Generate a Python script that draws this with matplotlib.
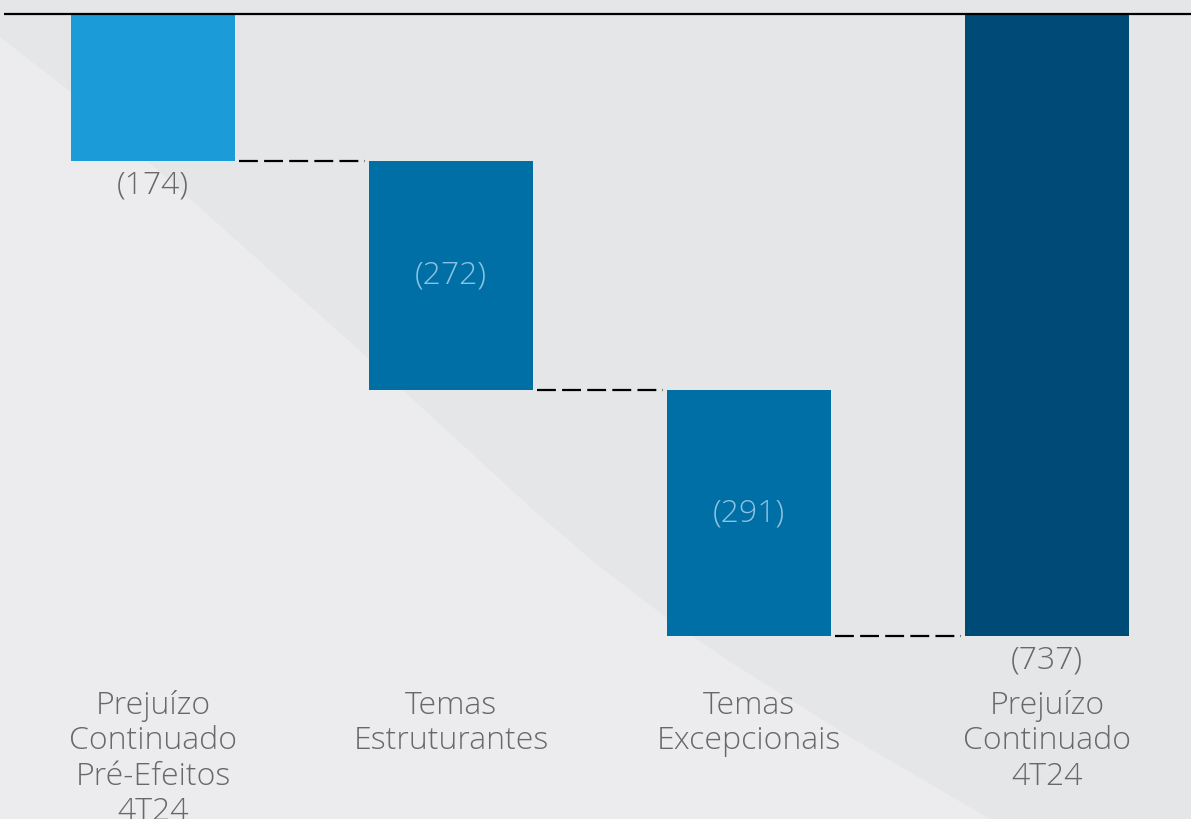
import numpy as np
import matplotlib.pyplot as plt
from matplotlib.patches import Polygon

plt.rcParams['font.family'] = ['Open Sans', 'DejaVu Sans']

# dados do gráfico (milhões)
categorias = ['Prejuízo\nContinuado\nPré-Efeitos\n4T24',
              'Temas\nEstruturantes',
              'Temas\nExcepcionais',
              'Prejuízo\nContinuado\n4T24']
valores = [-174, -272, -291]
total = sum(valores)
cores = ['#1b9cd9', '#006fa6', '#006fa6', '#004a77']

# bases e topos da cascata
fins = np.cumsum(valores)
inicios = np.concatenate([[0], fins[:-1]])
bottoms = list(fins) + [total]
alturas = [i - f for i, f in zip(inicios, fins)] + [-total]

fig = plt.figure(figsize=(11.91, 8.19), dpi=100)
fig.patch.set_facecolor('#e5e6e8')
ax = fig.add_axes([0, 0, 1, 1])
ax.set_facecolor('#e5e6e8')

# faixa clara diagonal no fundo
faixa = [(0, 37), (72, 93), (180, 190), (367, 357), (530, 507), (600, 567),
         (667, 618), (727, 660), (850, 737), (990, 819), (0, 819)]
faixa = [(x / 1191, 1 - y / 819) for x, y in faixa]
ax.add_patch(Polygon(faixa, closed=True, transform=ax.transAxes,
                     facecolor='#ececee', edgecolor='none', zorder=0))

x = np.arange(len(categorias))
larg = 0.55
ax.bar(x, alturas, bottom=bottoms, width=larg, color=cores, zorder=2)

# linha do zero
ax.plot([-0.5, 3.6], [0, 0], color='black', lw=1.6, zorder=3, solid_capstyle='butt')

# conectores tracejados
for i in range(len(valores)):
    y = fins[i]
    ax.plot([x[i] + larg / 2 + 0.015, x[i + 1] - larg / 2 - 0.015], [y, y],
            color='black', lw=1.6, dashes=(8.5, 2.8), zorder=3)

# rótulos de valor
txt_cinza = '#686868'
fs = 23
ax.text(x[0], fins[0] - 29, '(%d)' % -valores[0], ha='center', va='center',
        fontsize=fs, color=txt_cinza, fontweight='light')
for i in (1, 2):
    ax.text(x[i], (inicios[i] + fins[i]) / 2, '(%d)' % -valores[i], ha='center',
            va='center', fontsize=fs, color='#8cc2e2', fontweight='light')
ax.text(x[3], total - 29, '(%d)' % -total, ha='center', va='center',
        fontsize=fs, color=txt_cinza, fontweight='light')

# nomes das categorias
for xi, nome in zip(x, categorias):
    ax.text(xi, -800.5, nome, ha='center', va='top', fontsize=fs,
            color=txt_cinza, fontweight='light', linespacing=1.14)

ax.set_xlim(-153 / 298, (1191 - 153) / 298)
ax.set_ylim(-(819 - 13.5) / 0.845, 13.5 / 0.845)
ax.axis('off')

fig.savefig('out.png', dpi=100, facecolor=fig.get_facecolor())
